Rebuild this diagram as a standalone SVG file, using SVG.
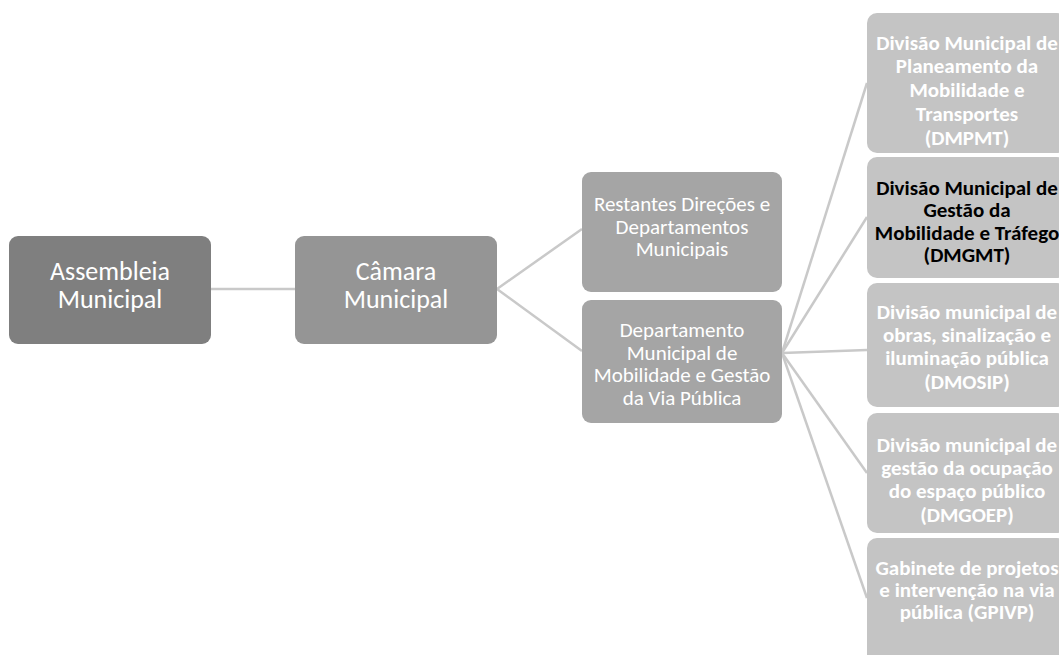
<svg xmlns="http://www.w3.org/2000/svg" width="1059" height="655" viewBox="0 0 1059 655">
<style>
text{font-family:Carlito,Lato,"Liberation Sans",sans-serif;text-anchor:middle}
.l1{font-size:26px;fill:#ffffff}
.l3{font-size:21px;fill:#ffffff}
.l4{font-size:21px;font-weight:bold;fill:#ffffff}
.dark{fill:#000000}
.conn line{stroke:#c9c9c9;stroke-width:2.5;fill:none}
</style>
<rect width="1059" height="655" fill="#ffffff"/>
<g id="connectors" class="conn">
<line x1="211" y1="289" x2="295" y2="289"/>
<line x1="497" y1="289" x2="582" y2="229"/>
<line x1="497" y1="289" x2="582" y2="351"/>
<line x1="782" y1="353" x2="867" y2="83"/>
<line x1="782" y1="353" x2="867" y2="217"/>
<line x1="782" y1="353" x2="867" y2="350"/>
<line x1="782" y1="353" x2="867" y2="473"/>
<line x1="782" y1="353" x2="867" y2="598"/>
</g>
<g id="assembleia">
<rect x="9" y="236" width="202" height="108" rx="9" fill="#7f7f7f"/>
<text class="l1"><tspan x="110" y="280">Assembleia</tspan><tspan x="110" y="308">Municipal</tspan></text>
</g>
<g id="camara">
<rect x="295" y="236" width="202" height="108" rx="9" fill="#959595"/>
<text class="l1"><tspan x="396" y="280">Câmara</tspan><tspan x="396" y="308">Municipal</tspan></text>
</g>
<g id="restantes">
<rect x="582" y="172" width="200" height="120" rx="9" fill="#a5a5a5"/>
<text class="l3"><tspan x="682" y="211">Restantes Direções e</tspan><tspan x="682" y="233.5">Departamentos</tspan><tspan x="682" y="256">Municipais</tspan></text>
</g>
<g id="departamento">
<rect x="582" y="300" width="200" height="123" rx="9" fill="#a5a5a5"/>
<text class="l3"><tspan x="682" y="337">Departamento</tspan><tspan x="682" y="359.5">Municipal de</tspan><tspan x="682" y="382">Mobilidade e Gestão</tspan><tspan x="682" y="404.5">da Via Pública</tspan></text>
</g>
<g id="dmpmt">
<rect x="867" y="13" width="200" height="140" rx="10" fill="#c4c4c4"/>
<text class="l4"><tspan x="967" y="50">Divisão Municipal de</tspan><tspan x="967" y="73">Planeamento da</tspan><tspan x="967" y="96.5">Mobilidade e</tspan><tspan x="967" y="120.5">Transportes</tspan><tspan x="967" y="145">(DMPMT)</tspan></text>
</g>
<g id="dmgmt">
<rect x="867" y="157" width="200" height="121" rx="10" fill="#c4c4c4"/>
<text class="l4 dark"><tspan x="967" y="195">Divisão Municipal de</tspan><tspan x="967" y="217">Gestão da</tspan><tspan x="967" y="239.5">Mobilidade e Tráfego</tspan><tspan x="967" y="262">(DMGMT)</tspan></text>
</g>
<g id="dmosip">
<rect x="867" y="283" width="200" height="124" rx="10" fill="#c4c4c4"/>
<text class="l4"><tspan x="967" y="319">Divisão municipal de</tspan><tspan x="967" y="342">obras, sinalização e</tspan><tspan x="967" y="365">iluminação pública</tspan><tspan x="967" y="389">(DMOSIP)</tspan></text>
</g>
<g id="dmgoep">
<rect x="867" y="413" width="200" height="120" rx="10" fill="#c4c4c4"/>
<text class="l4"><tspan x="967" y="452">Divisão municipal de</tspan><tspan x="967" y="475">gestão da ocupação</tspan><tspan x="967" y="498">do espaço público</tspan><tspan x="967" y="522">(DMGOEP)</tspan></text>
</g>
<g id="gpivp">
<rect x="867" y="538" width="200" height="130" rx="10" fill="#c4c4c4"/>
<text class="l4"><tspan x="967" y="575">Gabinete de projetos</tspan><tspan x="967" y="597">e intervenção na via</tspan><tspan x="967" y="619">pública (GPIVP)</tspan></text>
</g>
</svg>
